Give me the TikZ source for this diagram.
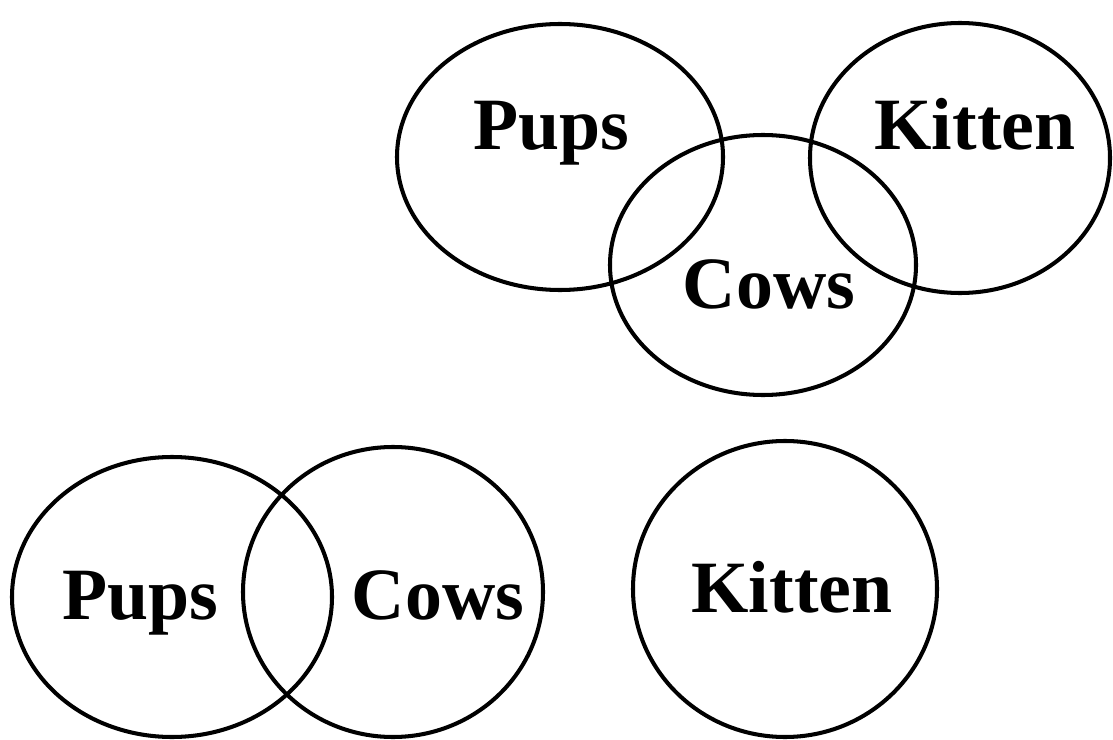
\documentclass[tikz,border=0pt]{standalone}
\usepackage{fontspec}
\setmainfont{Liberation Serif}
\usepackage{tikz}
\usetikzlibrary{calc}

\tikzset{
  setline/.style={line width=2.3pt},
  setlabel/.style={anchor=base,inner sep=0pt,font=\fontsize{42}{42}\selectfont\bfseries}
}

\begin{document}
\begin{tikzpicture}[x=0.02cm,y=-0.02cm]
            \useasboundingbox (0,0) rectangle (1113,740);

            % top: three sets
            \draw[setline](560,157) ellipse [x radius=163,y radius=133];
            \draw[setline](960,158) ellipse [x radius=150,y radius=135];
            \draw[setline](763,265) ellipse [x radius=153,y radius=130];
            \node[setlabel] (pupsA) at (551,150) {Pups};
            \node[setlabel] (kittenA) at (975,150) {Kitten};
            \node[setlabel] (cowsA) at (769,308) {Cows};

            % bottom: two overlapping, one apart
            \draw[setline](172,597) ellipse [x radius=160,y radius=140];
            \draw[setline](393,592) ellipse [x radius=150,y radius=145];
            \draw[setline](785,589) ellipse [x radius=152,y radius=148];
            \node[setlabel] (pupsB) at (140,619) {Pups};
            \node[setlabel] (cowsB) at (438,619) {Cows};
            \node[setlabel] (kittenB) at (792,612) {Kitten};

        \end{tikzpicture}
\end{document}
